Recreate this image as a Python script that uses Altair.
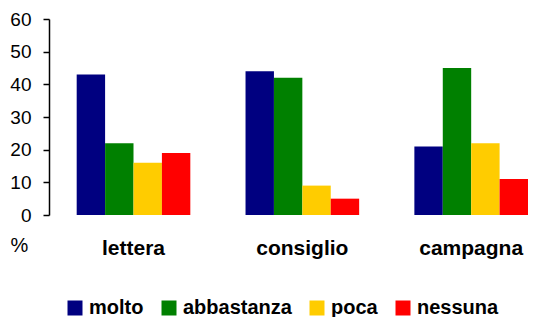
import altair as alt
import pandas as pd

categories = ["lettera", "consiglio", "campagna"]
series = ["molto", "abbastanza", "poca", "nessuna"]
colors = ["#000080", "#008000", "#FFCC00", "#FF0000"]
molto = [43, 44, 21]
abbastanza = [22, 42, 45]
poca = [16, 9, 22]
nessuna = [19, 5, 11]
y_ticks = [0, 10, 20, 30, 40, 50, 60]

values = {"molto": molto, "abbastanza": abbastanza, "poca": poca, "nessuna": nessuna}
rows = []
for s in series:
    for c, v in zip(categories, values[s]):
        rows.append({"categoria": c, "serie": s, "valore": v})
df = pd.DataFrame(rows)

chart = alt.Chart(df).mark_bar().encode(
    x=alt.X(
        "categoria:N",
        sort=categories,
        scale=alt.Scale(paddingInner=0.327, paddingOuter=0.082, align=1),
        axis=alt.Axis(
            title=None, labelAngle=0, domain=False, ticks=False,
            labelFont="Liberation Sans", labelFontWeight="bold", labelFontSize=21,
            labelColor="#000000", labelPadding=22,
        ),
    ),
    xOffset=alt.XOffset("serie:N", sort=series),
    y=alt.Y(
        "valore:Q",
        scale=alt.Scale(domain=[0, 60], nice=False),
        axis=alt.Axis(
            values=y_ticks, grid=False, title="%", titleAngle=0,
            titleX=-30, titleY=226, titleAlign="center", titleBaseline="middle",
            titleFont="Liberation Sans", titleFontSize=20, titleFontWeight="normal",
            titleColor="#000000",
            labelFont="Liberation Sans", labelFontSize=19, labelColor="#000000",
            labelPadding=12, tickSize=6, tickColor="#000000", tickWidth=1.5,
            domainColor="#000000", domainWidth=1.5,
        ),
    ),
    color=alt.Color(
        "serie:N",
        sort=series,
        scale=alt.Scale(domain=series, range=colors),
        legend=alt.Legend(
            title=None, orient="none", legendX=16, legendY=279,
            direction="horizontal", symbolType="square", symbolSize=225,
            symbolStrokeWidth=0, symbolOpacity=1,
            labelFont="Liberation Sans", labelFontWeight="bold", labelFontSize=20,
            labelColor="#000000", labelOffset=4, columnPadding=15, padding=0,
        ),
    ),
).properties(
    width=479,
    height=196,
    autosize=alt.AutoSizeParams(type="none"),
    padding={"left": 41, "top": 11, "right": 0, "bottom": 102},
).configure_view(stroke=None)

chart.save("out.html", embed_options={"renderer": "svg", "actions": False})
